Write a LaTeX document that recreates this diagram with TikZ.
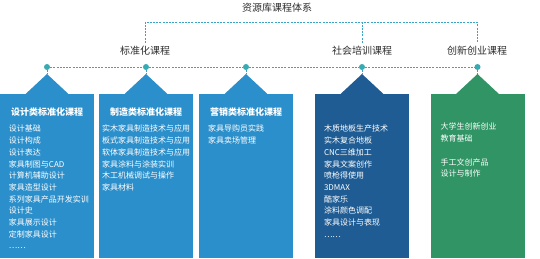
\documentclass[tikz,border=0pt]{standalone}
\usepackage{fontspec}
\setmainfont{Noto Sans CJK SC}
\usepackage{tikz}
\usetikzlibrary{positioning,calc}
\definecolor{cBlue}{RGB}{43,143,203}
\definecolor{cNavy}{RGB}{31,92,147}
\definecolor{cGreen}{RGB}{48,148,100}
\definecolor{cLine}{RGB}{58,163,200}
\definecolor{cDot}{RGB}{56,170,178}
\definecolor{cText}{RGB}{45,45,45}

\begin{document}
\begin{tikzpicture}[x=1pt,y=-1pt,
    col/.style={rectangle,minimum width=94pt,minimum height=164pt,inner sep=0pt,anchor=north},
    ctitle/.style={font=\bfseries\fontsize{9}{11}\selectfont,text=white},
    items/.style={font=\fontsize{8}{11.7}\selectfont,text=white,align=left,anchor=north west,inner sep=0pt},
    cat/.style={font=\fontsize{10}{12}\selectfont,text=cText},
    dot/.style={circle,fill=cDot,minimum size=6pt,inner sep=0pt},
    link/.style={draw=cLine,line width=0.9pt,dash pattern=on 2pt off 1.2pt}
  ]
  \useasboundingbox (0,0) rectangle (540,258);
  \node[cat] (root) at (277,8) {资源库课程体系};
  \node[cat] (std) at (145,51) {标准化课程};
  \node[cat] (soc) at (362,51) {社会培训课程};
  \node[cat] (inn) at (477,51) {创新创业课程};
  \coordinate (bus) at (362,22);
  \draw[link] (std.north) |- (bus) -| (inn.north);
  \draw[link] (soc.north) -- (bus);

  \node[col,fill=cBlue] (design) at (47,94) {};
  \node[col,fill=cBlue] (make) at (146,94) {};
  \node[col,fill=cBlue] (sales) at (246,94) {};
  \node[col,fill=cNavy] (train) at (362,94) {};
  \node[col,fill=cGreen] (innov) at (477.5,94) {};
  \foreach \b/\c [count=\i] in {design/cBlue,make/cBlue,sales/cBlue,train/cNavy,innov/cGreen} {
    \fill[\c] ($(\b.north)+(-22,0.5)$) -- ($(\b.north)+(0,-20)$) coordinate (p\i) -- ($(\b.north)+(22,0.5)$) -- cycle;
    \node[dot] (d\i) at ($(\b.north)+(0,-27)$) {};
    \draw[link] (d\i) -- (p\i);
  }
  \foreach \i [evaluate=\i as \j using int(\i+1)] in {1,...,4}
    \draw[link] (d\i) -- (d\j);

  \node[ctitle] (designT) at ($(design.north)+(0,18)$) {设计类标准化课程};
  \node[ctitle] (makeT) at ($(make.north)+(0,18)$) {制造类标准化课程};
  \node[ctitle] (salesT) at ($(sales.north)+(0,18)$) {营销类标准化课程};

  \node[items] (designL) at ($(design.north west)+(9,31)$) {设计基础\\设计构成\\设计表达\\家具制图与CAD\\计算机辅助设计\\家具造型设计\\系列家具产品开发实训\\设计史\\家具展示设计\\定制家具设计\\……};
  \node[items] (makeL) at ($(make.north west)+(3,31)$) {实木家具制造技术与应用\\板式家具制造技术与应用\\软体家具制造技术与应用\\家具涂料与涂装实训\\木工机械调试与操作\\家具材料};
  \node[items] (salesL) at ($(sales.north west)+(9,31)$) {家具导购员实践\\家具卖场管理};
  \node[items] (trainL) at ($(train.north west)+(9,31)$) {木质地板生产技术\\实木复合地板\\CNC三维加工\\家具文案创作\\喷枪得使用\\3DMAX\\酷家乐\\涂料颜色调配\\家具设计与表现\\……};
  \node[items] (innovL) at ($(innov.north west)+(10,29)$) {大学生创新创业\\教育基础\\[11.7pt]手工文创产品\\设计与制作};
\end{tikzpicture}
\end{document}
